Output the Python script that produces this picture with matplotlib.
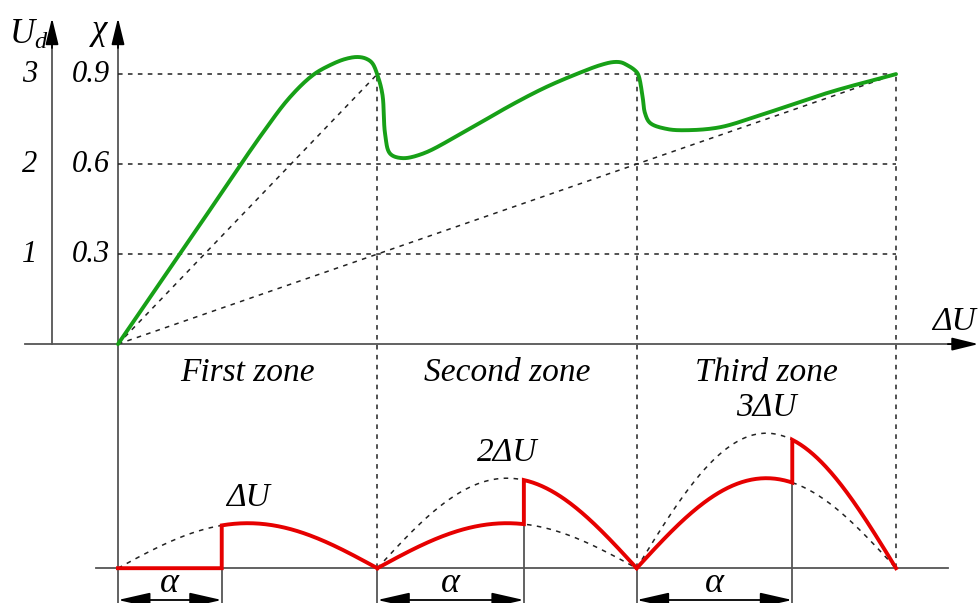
import numpy as np
import matplotlib
matplotlib.use('Agg')
import matplotlib.pyplot as plt

# serif italic text like the original drawing
plt.rcParams['font.family'] = ['Liberation Serif', 'DejaVu Serif']
plt.rcParams['mathtext.fontset'] = 'custom'
plt.rcParams['mathtext.it'] = 'Liberation Serif:italic'
plt.rcParams['mathtext.rm'] = 'Liberation Serif:italic'

# zones along the delta U axis
zone_edges = [0, 1, 2, 3]
zone_names = ['First zone', 'Second zone', 'Third zone']

# left axis ticks (chi and U_d share the same heights)
chi_ticks = [0.3, 0.6, 0.9]
chi_labels = ['0.3', '0.6', '0.9']
ud_labels = ['1', '2', '3']

# green chi curve (x in zone units)
curve_x = [0, 0.30, 0.559, 0.663, 0.752, 0.818, 0.875, 0.922, 0.955, 0.980,
           1.003, 1.020, 1.030, 1.049, 1.095, 1.176, 1.330, 1.523, 1.654, 1.782,
           1.860, 1.909, 1.940, 1.963, 1.990, 2.005, 2.022, 2.032, 2.052, 2.117,
           2.194, 2.322, 2.476, 2.746, 3.0]
curve_chi = [0, 0.378, 0.705, 0.823, 0.897, 0.93, 0.950, 0.957, 0.952, 0.937,
             0.89, 0.83, 0.70, 0.635, 0.62, 0.635, 0.705, 0.80, 0.858, 0.905,
             0.930, 0.940, 0.939, 0.93, 0.915, 0.90, 0.83, 0.77, 0.737, 0.717,
             0.713, 0.723, 0.763, 0.84, 0.9]

# lower diagram: switching point alpha in each zone (fraction of the half wave)
alpha_frac = [0.40, 0.565, 0.60]
peak_labels = ['ΔU', '2ΔU', '3ΔU']

lower_base = -0.747   # baseline of the lower diagram
arch_unit = 0.15      # height of one delta U arch
y_bottom = -0.863
y_top = 1.147
axis_tip = 1.087

line_col = '#555555'
dot_col = '#222222'
dots = (0, (3, 3.5))
green = '#17a017'
red = '#e60000'


def smooth_path(xs, ys, n=16):
    # centripetal catmull-rom through the read points, only for drawing
    sx, sy = 259.3, 300.0   # pixel scale so spacing is even on screen
    p = np.column_stack([np.asarray(xs) * sx, np.asarray(ys) * sy])
    p = np.vstack([2 * p[0] - p[1], p, 2 * p[-1] - p[-2]])
    out = []
    for i in range(1, len(p) - 2):
        p0, p1, p2, p3 = p[i - 1], p[i], p[i + 1], p[i + 2]
        t0 = 0.0
        t1 = t0 + np.linalg.norm(p1 - p0) ** 0.5
        t2 = t1 + np.linalg.norm(p2 - p1) ** 0.5
        t3 = t2 + np.linalg.norm(p3 - p2) ** 0.5
        tt = np.linspace(t1, t2, n, endpoint=False)[:, None]
        a1 = (t1 - tt) / (t1 - t0) * p0 + (tt - t0) / (t1 - t0) * p1
        a2 = (t2 - tt) / (t2 - t1) * p1 + (tt - t1) / (t2 - t1) * p2
        a3 = (t3 - tt) / (t3 - t2) * p2 + (tt - t2) / (t3 - t2) * p3
        b1 = (t2 - tt) / (t2 - t0) * a1 + (tt - t0) / (t2 - t0) * a2
        b2 = (t3 - tt) / (t3 - t1) * a2 + (tt - t1) / (t3 - t1) * a3
        c = (t2 - tt) / (t2 - t1) * b1 + (tt - t1) / (t2 - t1) * b2
        out.append(c)
    out.append(p[-2][None, :])
    out = np.vstack(out)
    return out[:, 0] / sx, out[:, 1] / sy


fig = plt.figure(figsize=(9.79, 6.03), dpi=100)
ax = fig.add_axes([0, 0, 1, 1])
ax.set_xlim(-0.455, 3.320)
ax.set_ylim(y_bottom, y_top)
ax.axis('off')

arrow = dict(arrowstyle='-|>,head_width=0.22,head_length=0.9', color='black',
             lw=1.3, mutation_scale=18, shrinkA=0, shrinkB=0)

# axes: chi, U_d, delta U
ax.plot([0, 0], [y_bottom, axis_tip - 0.05], color=line_col, lw=1.3)
ax.annotate('', xy=(0, axis_tip), xytext=(0, axis_tip - 0.1), arrowprops=arrow)
ud_x = -0.2545
ax.plot([ud_x, ud_x], [0, axis_tip - 0.05], color=line_col, lw=1.3)
ax.annotate('', xy=(ud_x, axis_tip), xytext=(ud_x, axis_tip - 0.1), arrowprops=arrow)
ax.plot([-0.359, 3.25], [0, 0], color=line_col, lw=1.3)
ax.annotate('', xy=(3.318, 0), xytext=(3.2, 0), arrowprops=arrow)

ax.text(-0.345, 1.03, r'$U_d$', fontsize=25, ha='center', va='center')
ax.text(-0.07, 1.045, 'χ', fontsize=25, style='italic', ha='center', va='center')
ax.text(3.225, 0.075, 'ΔU', fontsize=24, style='italic', ha='center', va='center')

# tick labels and dotted guide lines
for t, cl, ul in zip(chi_ticks, chi_labels, ud_labels):
    ax.text(-0.03, t, cl, fontsize=22, style='italic', ha='right', va='center')
    ax.text(-0.31, t, ul, fontsize=22, style='italic', ha='right', va='center')
    ax.plot([0, 3], [t, t], color=dot_col, lw=1.1, linestyle=dots)

# dotted rays from origin
ax.plot([0, 1], [0, 0.9], color=dot_col, lw=1.1, linestyle=dots)
ax.plot([0, 3], [0, 0.9], color=dot_col, lw=1.1, linestyle=dots)

# zone boundaries
for e in zone_edges[1:]:
    ax.plot([e, e], [lower_base, 0.9], color=dot_col, lw=1.1, linestyle=dots)
for e in zone_edges[1:-1]:
    ax.plot([e, e], [y_bottom, lower_base], color=line_col, lw=1.3)

gx, gy = smooth_path(curve_x, curve_chi)
ax.plot(gx, gy, color=green, lw=2.8, solid_joinstyle='round', solid_capstyle='round')

for k, name in enumerate(zone_names):
    ax.text(k + 0.5, -0.097, name, fontsize=24, style='italic', ha='center', va='center')

# lower diagram
ax.plot([-0.085, 3.2], [lower_base, lower_base], color=line_col, lw=1.3)
t = np.linspace(0, 1, 200)
for k in range(3):
    a = alpha_frac[k]
    small = lower_base + k * arch_unit * np.sin(np.pi * t)
    big = lower_base + (k + 1) * arch_unit * np.sin(np.pi * t)
    if k > 0:
        ax.plot(k + t, small, color=dot_col, lw=1.1, linestyle=dots)
    ax.plot(k + t, big, color=dot_col, lw=1.1, linestyle=dots)

    lo = lower_base + k * arch_unit * np.sin(np.pi * a)
    hi = lower_base + (k + 1) * arch_unit * np.sin(np.pi * a)
    t1 = np.linspace(0, a, 100)
    t2 = np.linspace(a, 1, 100)
    rx = np.concatenate([k + t1, [k + a], k + t2])
    ry = np.concatenate([lower_base + k * arch_unit * np.sin(np.pi * t1), [hi],
                         lower_base + (k + 1) * arch_unit * np.sin(np.pi * t2)])
    ax.plot(rx, ry, color=red, lw=2.8, solid_joinstyle='miter')

    # alpha marker
    ax.plot([k + a, k + a], [y_bottom, lo], color=line_col, lw=1.3, zorder=1)
    ax.annotate('', xy=(k, -0.853), xytext=(k + a, -0.853),
                arrowprops=dict(arrowstyle='<|-|>,head_width=0.25,head_length=1.1',
                                color='black', lw=1.3, mutation_scale=18,
                                shrinkA=0, shrinkB=0))
    ax.text(k + a / 2, -0.797, r'$\alpha$', fontsize=26, ha='center', va='center')

    peak = lower_base + (k + 1) * arch_unit
    ax.text(k + 0.5, peak + 0.085, peak_labels[k], fontsize=24, style='italic',
            ha='center', va='center')

fig.savefig('out.png', dpi=100)
